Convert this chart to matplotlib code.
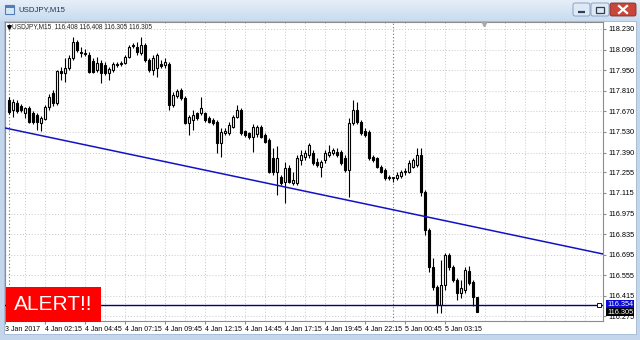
import matplotlib.pyplot as plt
import numpy as np
from matplotlib.patches import Rectangle, FancyBboxPatch
from matplotlib.colors import LinearSegmentedColormap

# USDJPY M15, bar 0 = 4 Jan 2017 00:00
symbol = "USDJPY,M15"
opens = [
    117.747, 117.679, 117.727, 117.706, 117.659, 117.693, 117.659, 117.645, 117.591, 117.618,
    117.700, 117.795, 117.727, 117.944, 117.931, 117.965, 118.033, 118.142, 118.074, 118.067,
    118.053, 118.012, 117.951, 117.999, 117.985, 117.931, 117.951, 117.992, 117.992, 117.999,
    118.040, 118.114, 118.108, 118.067, 118.121, 118.019, 117.951, 117.965, 117.992, 117.985,
    117.992, 117.713, 117.774, 117.815, 117.761, 117.591, 117.611, 117.659, 117.659, 117.659,
    117.625, 117.611, 117.598, 117.455, 117.523, 117.523, 117.564, 117.632, 117.679, 117.536,
    117.523, 117.496, 117.516, 117.564, 117.509, 117.475, 117.353, 117.258, 117.224, 117.190,
    117.285, 117.183, 117.183, 117.339, 117.360, 117.373, 117.387, 117.326, 117.292, 117.339,
    117.373, 117.387, 117.394, 117.394, 117.353, 117.271, 117.591, 117.679, 117.598, 117.536,
    117.530, 117.360, 117.353, 117.292, 117.271, 117.224, 117.217, 117.217, 117.230, 117.258,
    117.258, 117.292, 117.305, 117.373, 117.122, 116.863, 116.612, 116.476, 116.353, 116.489,
    116.693, 116.612, 116.523, 116.435, 116.455, 116.584, 116.510, 116.408]
highs = [
    117.768, 117.754, 117.747, 117.720, 117.700, 117.706, 117.672, 117.659, 117.638, 117.713,
    117.788, 117.815, 117.951, 117.972, 118.033, 118.053, 118.176, 118.155, 118.108, 118.094,
    118.074, 118.033, 118.040, 118.019, 118.006, 117.972, 118.006, 118.006, 118.012, 118.053,
    118.121, 118.135, 118.142, 118.176, 118.135, 118.033, 118.053, 118.067, 118.019, 118.033,
    118.006, 117.802, 117.822, 117.829, 117.774, 117.645, 117.679, 117.666, 117.768, 117.666,
    117.638, 117.625, 117.611, 117.557, 117.557, 117.598, 117.645, 117.713, 117.693, 117.543,
    117.530, 117.584, 117.577, 117.577, 117.523, 117.489, 117.421, 117.434, 117.237, 117.326,
    117.305, 117.258, 117.373, 117.407, 117.407, 117.455, 117.407, 117.353, 117.339, 117.407,
    117.441, 117.421, 117.421, 117.407, 117.373, 117.625, 117.747, 117.734, 117.611, 117.557,
    117.543, 117.373, 117.360, 117.305, 117.285, 117.237, 117.224, 117.258, 117.271, 117.285,
    117.339, 117.353, 117.421, 117.421, 117.135, 116.877, 116.673, 116.489, 116.659, 116.707,
    116.707, 116.625, 116.537, 116.523, 116.612, 116.618, 116.523, 116.408]
lows = [
    117.652, 117.632, 117.659, 117.666, 117.625, 117.591, 117.584, 117.543, 117.536, 117.611,
    117.679, 117.706, 117.713, 117.883, 117.870, 117.951, 118.019, 118.074, 118.040, 118.046,
    117.931, 117.931, 117.938, 117.863, 117.917, 117.883, 117.938, 117.972, 117.978, 117.992,
    118.033, 118.101, 118.053, 118.053, 118.006, 117.938, 117.917, 117.904, 117.965, 117.965,
    117.679, 117.700, 117.761, 117.747, 117.584, 117.509, 117.543, 117.611, 117.645, 117.598,
    117.591, 117.577, 117.387, 117.360, 117.509, 117.509, 117.557, 117.625, 117.509, 117.496,
    117.482, 117.394, 117.496, 117.489, 117.455, 117.251, 117.237, 117.101, 117.169, 117.047,
    117.183, 117.169, 117.169, 117.305, 117.339, 117.353, 117.305, 117.292, 117.224, 117.319,
    117.360, 117.373, 117.360, 117.305, 117.258, 117.088, 117.577, 117.584, 117.509, 117.496,
    117.339, 117.326, 117.285, 117.251, 117.203, 117.203, 117.190, 117.203, 117.217, 117.237,
    117.251, 117.285, 117.292, 117.094, 116.829, 116.578, 116.455, 116.299, 116.299, 116.455,
    116.591, 116.510, 116.387, 116.401, 116.435, 116.489, 116.346, 116.305]
closes = [
    117.666, 117.734, 117.672, 117.679, 117.693, 117.598, 117.598, 117.598, 117.625, 117.700,
    117.768, 117.727, 117.944, 117.931, 117.965, 118.033, 118.142, 118.087, 118.067, 118.060,
    117.938, 117.938, 117.999, 117.931, 117.931, 117.958, 117.992, 117.985, 117.999, 118.040,
    118.108, 118.121, 118.074, 118.121, 118.019, 117.951, 118.033, 118.053, 117.978, 118.006,
    117.713, 117.781, 117.808, 117.761, 117.591, 117.632, 117.645, 117.625, 117.693, 117.611,
    117.598, 117.591, 117.455, 117.530, 117.536, 117.577, 117.632, 117.679, 117.523, 117.509,
    117.496, 117.564, 117.564, 117.496, 117.462, 117.258, 117.258, 117.353, 117.183, 117.285,
    117.190, 117.203, 117.353, 117.373, 117.387, 117.441, 117.319, 117.305, 117.326, 117.387,
    117.394, 117.407, 117.373, 117.319, 117.271, 117.591, 117.679, 117.598, 117.523, 117.509,
    117.353, 117.339, 117.292, 117.258, 117.217, 117.217, 117.224, 117.237, 117.258, 117.264,
    117.319, 117.339, 117.373, 117.122, 116.863, 116.612, 116.476, 116.353, 116.489, 116.693,
    116.612, 116.523, 116.435, 116.469, 116.591, 116.503, 116.408, 116.305]

price_ticks = [118.230, 118.090, 117.950, 117.810, 117.670, 117.530, 117.390, 117.255,
               117.115, 116.975, 116.835, 116.695, 116.555, 116.415, 116.275]
time_tick_bars = [-1, 9, 19, 29, 39, 49, 59, 69, 79, 89, 99, 109]
time_tick_labels = ["3 Jan 2017", "4 Jan 02:15", "4 Jan 04:45", "4 Jan 07:15", "4 Jan 09:45",
                    "4 Jan 12:15", "4 Jan 14:45", "4 Jan 17:15", "4 Jan 19:45", "4 Jan 22:15",
                    "5 Jan 00:45", "5 Jan 03:15"]
day_breaks = [0, 96]
trend_bars = [-1, 148.5]
trend_prices = [117.557, 116.700]
alert_level = 116.354
bid = closes[-1]

FONT = "Liberation Sans"

fig = plt.figure(figsize=(6.4, 3.4), dpi=100)
fig.patch.set_facecolor("#c3d6ec")

# window chrome (pixel coords)
bg = fig.add_axes([0, 0, 1, 1])
grad = np.linspace(0, 1, 32).reshape(-1, 1)
bg.imshow(grad, extent=(0, 640, 21, 0), aspect="auto",
          cmap=LinearSegmentedColormap.from_list("tb", ["#e6eff9", "#c9dbef"]))
bg.add_patch(Rectangle((4, 21), 632, 313, facecolor="white", edgecolor="#9fb6d2", lw=0.6))
bg.add_patch(Rectangle((5, 5), 9, 9, facecolor="#d8e6f4", edgecolor="#4f7fb5", lw=0.8))
bg.add_patch(Rectangle((5, 5), 9, 3, facecolor="#4f7fb5", edgecolor="none"))
bg.text(18, 10, symbol, fontsize=5.6, family=FONT, color="#1e3657", va="center")
bg.add_patch(FancyBboxPatch((573, 3), 17, 13, boxstyle="round,pad=0,rounding_size=2",
                            fc="#dfe9f5", ec="#7f97b8", lw=0.6))
bg.plot([578, 585], [11.5, 11.5], color="#2b3f5c", lw=1.6, solid_capstyle="butt")
bg.add_patch(FancyBboxPatch((591, 3), 18, 13, boxstyle="round,pad=0,rounding_size=2",
                            fc="#dfe9f5", ec="#7f97b8", lw=0.6))
bg.add_patch(Rectangle((596, 6.5), 8, 6.5, fc="none", ec="#2b3f5c", lw=0.9))
bg.add_patch(FancyBboxPatch((610, 3), 26, 13, boxstyle="round,pad=0,rounding_size=2",
                            fc="#c9473a", ec="#7d2e27", lw=0.6))
bg.plot([619, 627], [6, 13], color="white", lw=1.6)
bg.plot([619, 627], [13, 6], color="white", lw=1.6)
bg.set_xlim(0, 640)
bg.set_ylim(340, 0)
bg.axis("off")

# price chart
ax = fig.add_axes([5 / 640, 19 / 340, 598 / 640, 299 / 340])
ax.set_facecolor("white")
ax.set_xlim(-1, 148.5)
ax.set_ylim(116.2444, 118.2776)

grid_bars = np.arange(-1, 149, 5)
ax.vlines(grid_bars, 0, 1, transform=ax.get_xaxis_transform(), colors="#c8c8c8",
          linestyles=(0, (1, 2)), lw=0.7, zorder=0)
ax.hlines(price_ticks, 0, 1, transform=ax.get_yaxis_transform(), colors="#c8c8c8",
          linestyles=(0, (1, 2)), lw=0.7, zorder=0)
ax.vlines(day_breaks, 0, 1, transform=ax.get_xaxis_transform(), colors="#707070",
          linestyles=(0, (1, 2)), lw=0.8, zorder=1)

x = np.arange(len(opens))
o = np.array(opens)
c = np.array(closes)
up = c >= o
ax.vlines(x, lows, highs, color="black", lw=0.8, zorder=3)
ax.bar(x[up], (c - o)[up], bottom=o[up], width=0.55, color="white",
       edgecolor="black", lw=0.8, zorder=4)
ax.bar(x[~up], (c - o)[~up], bottom=o[~up], width=0.55, color="black",
       edgecolor="black", lw=0.8, zorder=4)

ax.plot(trend_bars, trend_prices, color="#1212c4", lw=1.1, zorder=5, clip_on=True)
ax.axhline(alert_level, color="#000080", lw=1.0, zorder=5)
ax.plot([147.5], [alert_level], marker="s", ms=2.5, mfc="white", mec="#000080",
        mew=0.7, zorder=6, clip_on=False)

for s in ax.spines.values():
    s.set_color("#8c8c8c")
    s.set_linewidth(0.8)

ax.yaxis.tick_right()
ax.set_yticks(price_ticks)
ax.set_yticklabels([f"{p:.3f}" for p in price_ticks])
ax.tick_params(axis="y", length=2, pad=2, labelsize=5.3, labelfontfamily=FONT,
               color="#8c8c8c", labelcolor="black")
ax.set_xticks(time_tick_bars)
ax.set_xticklabels(time_tick_labels, ha="left")
ax.tick_params(axis="x", length=2, pad=1.5, labelsize=5.0, labelfontfamily=FONT,
               color="#8c8c8c", labelcolor="black")

ytr = ax.get_yaxis_transform()
ax.text(1.0067, alert_level, f"{alert_level:.3f}", transform=ytr, fontsize=5.3,
        family=FONT, color="white", va="center", ha="left", clip_on=False, zorder=7,
        bbox=dict(boxstyle="square,pad=0.12", fc="#0a0ad2", ec="none"))
ax.text(1.0067, bid, f"{bid:.3f}", transform=ytr, fontsize=5.3,
        family=FONT, color="white", va="center", ha="left", clip_on=False, zorder=7,
        bbox=dict(boxstyle="square,pad=0.12", fc="black", ec="none"))

# overlay: header, shift marker, alert box
ov = fig.add_axes([0, 0, 1, 1], zorder=10)
ov.patch.set_alpha(0)
ov.set_xlim(0, 640)
ov.set_ylim(340, 0)
ov.axis("off")
ov.plot([8.5], [26.5], marker="v", ms=2.6, color="black")
ov.text(12, 26.5, f"{symbol}  {opens[-1]:.3f} {highs[-1]:.3f} {lows[-1]:.3f} {closes[-1]:.3f}",
        fontsize=4.7, family=FONT, color="#202020", va="center")
ov.plot([484], [23.5], marker="v", ms=3.2, color="#a8a8a8")
ov.add_patch(Rectangle((6, 287), 95, 35, facecolor="#ff0000", edgecolor="none"))
ov.text(53.5, 304.5, "ALERT!!", fontsize=15, family=FONT, color="white",
        ha="center", va="center")

fig.savefig("out.png", dpi=100, facecolor=fig.get_facecolor())
